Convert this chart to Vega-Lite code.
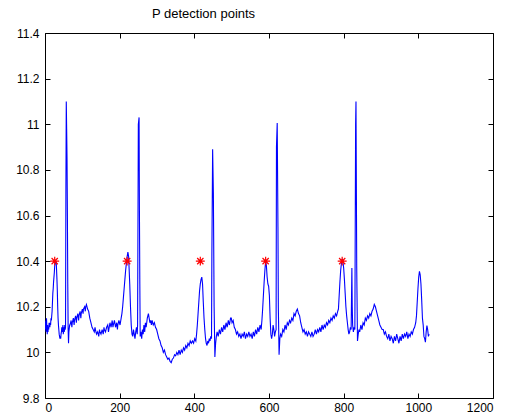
{
"$schema":"https://vega.github.io/schema/vega-lite/v6.json",
"width":448,"height":365,
"autosize":{"type":"none"},
"padding":{"left":45,"top":33,"right":18,"bottom":21},
"background":"white",
"title":{"text":"P detection points","font":"Liberation Sans","fontSize":13,"fontWeight":"normal","color":"black","anchor":"start","frame":"group","dx":107,"offset":6},
"config":{"view":{"stroke":null},"axis":{"labelFont":"Liberation Sans","labelFontSize":12,"labelColor":"black","domainColor":"black","tickColor":"black","grid":false,"title":null,"tickSize":-5}},
"datasets":{
"sig":[
{"x":0,"y":10.13},{"x":1,"y":10.10},{"x":2,"y":10.14},{"x":3,"y":10.09},{"x":4,"y":10.15},{"x":5,"y":10.11},{"x":6,"y":10.08},{"x":7,"y":10.12},{"x":8,"y":10.09},{"x":9,"y":10.11},{"x":10,"y":10.10},{"x":11,"y":10.13},{"x":12,"y":10.12},{"x":13,"y":10.11},{"x":14,"y":10.13},{"x":15,"y":10.12},{"x":16,"y":10.15},{"x":17,"y":10.14},{"x":19,"y":10.18},{"x":20,"y":10.22},{"x":21,"y":10.26},{"x":22,"y":10.28},{"x":23,"y":10.31},{"x":24,"y":10.33},{"x":25,"y":10.35},{"x":26,"y":10.38},{"x":27,"y":10.39},{"x":28,"y":10.40},{"x":29,"y":10.39},{"x":30,"y":10.40},{"x":31,"y":10.36},{"x":32,"y":10.32},{"x":33,"y":10.27},{"x":34,"y":10.20},{"x":35,"y":10.15},{"x":36,"y":10.12},{"x":37,"y":10.10},{"x":38,"y":10.08},{"x":39,"y":10.07},{"x":40,"y":10.06},{"x":41,"y":10.07},{"x":42,"y":10.06},{"x":43,"y":10.08},{"x":44,"y":10.09},{"x":45,"y":10.11},{"x":46,"y":10.09},{"x":47,"y":10.10},{"x":48,"y":10.12},{"x":49,"y":10.08},{"x":50,"y":10.10},{"x":51,"y":10.11},{"x":52,"y":10.09},{"x":53,"y":10.12},{"x":54,"y":10.10},{"x":55,"y":10.11},{"x":56,"y":10.72},{"x":57,"y":11.10},{"x":58,"y":10.98},{"x":59,"y":10.85},{"x":60,"y":10.60},{"x":61,"y":10.30},{"x":62,"y":10.10},{"x":63,"y":10.04},{"x":64,"y":10.09},{"x":66,"y":10.12},
{"x":67,"y":10.12},{"x":70,"y":10.14},{"x":72,"y":10.11},{"x":73,"y":10.13},{"x":76,"y":10.15},{"x":78,"y":10.12},{"x":79,"y":10.14},{"x":82,"y":10.16},{"x":84,"y":10.13},{"x":85,"y":10.15},{"x":88,"y":10.17},{"x":90,"y":10.14},{"x":91,"y":10.16},{"x":94,"y":10.18},{"x":96,"y":10.15},{"x":97,"y":10.17},{"x":100,"y":10.19},{"x":102,"y":10.17},{"x":103,"y":10.19},{"x":106,"y":10.20},{"x":108,"y":10.18},{"x":109,"y":10.20},{"x":111,"y":10.21},{"x":114,"y":10.19},{"x":117,"y":10.18},{"x":120,"y":10.15},{"x":123,"y":10.13},{"x":126,"y":10.11},{"x":129,"y":10.10},{"x":132,"y":10.09},{"x":134,"y":10.11},{"x":135,"y":10.10},{"x":138,"y":10.08},{"x":141,"y":10.09},{"x":144,"y":10.07},{"x":146,"y":10.10},{"x":147,"y":10.09},{"x":150,"y":10.08},{"x":153,"y":10.10},{"x":156,"y":10.08},{"x":158,"y":10.11},{"x":159,"y":10.10},{"x":162,"y":10.09},{"x":165,"y":10.11},{"x":168,"y":10.12},{"x":170,"y":10.09},{"x":171,"y":10.10},{"x":174,"y":10.13},{"x":177,"y":10.11},{"x":180,"y":10.14},{"x":182,"y":10.11},{"x":183,"y":10.12},{"x":186,"y":10.14},{"x":189,"y":10.11},{"x":192,"y":10.13},{"x":194,"y":10.10},{"x":195,"y":10.12},{"x":198,"y":10.14},{"x":201,"y":10.12},{"x":204,"y":10.15},
{"x":206,"y":10.17},{"x":208,"y":10.20},{"x":210,"y":10.24},{"x":212,"y":10.28},{"x":214,"y":10.32},{"x":216,"y":10.36},{"x":218,"y":10.39},{"x":220,"y":10.42},{"x":222,"y":10.44},{"x":224,"y":10.42},{"x":225,"y":10.38},{"x":227,"y":10.30},{"x":229,"y":10.20},{"x":231,"y":10.12},{"x":233,"y":10.08},{"x":235,"y":10.07},{"x":237,"y":10.10},{"x":239,"y":10.08},{"x":241,"y":10.06},{"x":243,"y":10.09},{"x":245,"y":10.11},{"x":247,"y":10.08},{"x":248,"y":10.12},{"x":249,"y":10.55},{"x":250,"y":11.00},{"x":252,"y":11.03},{"x":253,"y":10.60},{"x":254,"y":10.30},{"x":255,"y":10.07},{"x":257,"y":10.09},{"x":259,"y":10.06},{"x":261,"y":10.10},{"x":263,"y":10.08},{"x":265,"y":10.12},{"x":267,"y":10.09},{"x":269,"y":10.13},{"x":271,"y":10.11},{"x":274,"y":10.15},{"x":277,"y":10.17},{"x":279,"y":10.15},{"x":281,"y":10.13},{"x":283,"y":10.14},{"x":285,"y":10.12},{"x":287,"y":10.14},{"x":290,"y":10.12},{"x":293,"y":10.13},{"x":296,"y":10.11},{"x":299,"y":10.10},{"x":302,"y":10.08},{"x":305,"y":10.06},{"x":308,"y":10.05},{"x":311,"y":10.03},{"x":314,"y":10.02},{"x":317,"y":10.00},{"x":320,"y":10.01},{"x":323,"y":9.99},{"x":326,"y":9.98},{"x":329,"y":9.97},{"x":332,"y":9.975},{"x":335,"y":9.96},{"x":338,"y":9.955},{"x":341,"y":9.97},{"x":344,"y":9.975},{"x":347,"y":9.99},{"x":350,"y":9.985},{"x":353,"y":10.00},{"x":356,"y":9.99},{"x":359,"y":10.01},{"x":362,"y":9.99},{"x":365,"y":10.01},{"x":368,"y":10.00},{"x":371,"y":10.02},{"x":374,"y":10.01},{"x":377,"y":10.03},{"x":380,"y":10.02},{"x":383,"y":10.04},{"x":386,"y":10.03},{"x":389,"y":10.05},{"x":392,"y":10.04},{"x":395,"y":10.05},{"x":398,"y":10.04},{"x":401,"y":10.06},{"x":404,"y":10.05},{"x":406,"y":10.08},
{"x":408,"y":10.12},{"x":410,"y":10.17},{"x":412,"y":10.22},{"x":414,"y":10.27},{"x":416,"y":10.30},{"x":418,"y":10.32},{"x":420,"y":10.33},{"x":422,"y":10.30},{"x":424,"y":10.22},{"x":426,"y":10.15},{"x":428,"y":10.10},{"x":430,"y":10.06},{"x":432,"y":10.04},{"x":434,"y":10.03},{"x":436,"y":10.05},{"x":438,"y":10.04},{"x":440,"y":10.06},{"x":442,"y":10.05},{"x":444,"y":10.07},{"x":446,"y":10.06},{"x":447,"y":10.43},{"x":449,"y":10.89},{"x":451,"y":10.70},{"x":453,"y":10.20},{"x":455,"y":9.98},{"x":457,"y":10.04},{"x":459,"y":10.07},{"x":461,"y":10.09},{"x":464,"y":10.07},{"x":467,"y":10.10},{"x":470,"y":10.08},{"x":473,"y":10.11},{"x":476,"y":10.09},{"x":479,"y":10.12},{"x":482,"y":10.10},{"x":485,"y":10.13},{"x":488,"y":10.11},{"x":491,"y":10.14},{"x":494,"y":10.12},{"x":497,"y":10.15},{"x":499,"y":10.15},{"x":501,"y":10.13},{"x":504,"y":10.14},{"x":507,"y":10.11},{"x":510,"y":10.10},{"x":513,"y":10.08},{"x":516,"y":10.09},{"x":519,"y":10.07},{"x":522,"y":10.08},{"x":525,"y":10.06},{"x":528,"y":10.08},{"x":531,"y":10.07},{"x":534,"y":10.09},{"x":537,"y":10.06},{"x":540,"y":10.08},{"x":543,"y":10.07},{"x":546,"y":10.09},{"x":549,"y":10.07},{"x":552,"y":10.08},{"x":555,"y":10.06},{"x":558,"y":10.09},{"x":561,"y":10.07},{"x":564,"y":10.10},{"x":567,"y":10.08},{"x":570,"y":10.11},{"x":573,"y":10.09},{"x":576,"y":10.12},{"x":579,"y":10.10},{"x":581,"y":10.14},
{"x":583,"y":10.19},{"x":585,"y":10.25},{"x":587,"y":10.31},{"x":589,"y":10.36},{"x":591,"y":10.40},{"x":593,"y":10.38},{"x":595,"y":10.33},{"x":597,"y":10.30},{"x":599,"y":10.29},{"x":601,"y":10.25},{"x":603,"y":10.15},{"x":605,"y":10.08},{"x":607,"y":10.06},{"x":609,"y":10.08},{"x":611,"y":10.12},{"x":613,"y":10.10},{"x":615,"y":10.07},{"x":617,"y":10.09},{"x":619,"y":10.10},{"x":620,"y":10.90},{"x":622,"y":11.005},{"x":624,"y":10.55},{"x":625,"y":10.20},{"x":627,"y":9.99},{"x":629,"y":10.06},{"x":631,"y":10.08},{"x":634,"y":10.07},{"x":637,"y":10.10},{"x":640,"y":10.09},{"x":643,"y":10.12},{"x":646,"y":10.10},{"x":649,"y":10.13},{"x":652,"y":10.12},{"x":655,"y":10.14},{"x":658,"y":10.13},{"x":661,"y":10.15},{"x":664,"y":10.14},{"x":667,"y":10.17},{"x":670,"y":10.16},{"x":673,"y":10.18},{"x":676,"y":10.19},{"x":679,"y":10.17},{"x":682,"y":10.16},{"x":685,"y":10.13},{"x":688,"y":10.11},{"x":691,"y":10.09},{"x":694,"y":10.10},{"x":697,"y":10.08},{"x":700,"y":10.09},{"x":703,"y":10.07},{"x":706,"y":10.09},{"x":709,"y":10.08},{"x":712,"y":10.07},{"x":715,"y":10.09},{"x":718,"y":10.07},{"x":721,"y":10.08},{"x":724,"y":10.10},{"x":727,"y":10.08},{"x":730,"y":10.10},{"x":733,"y":10.09},{"x":736,"y":10.11},{"x":739,"y":10.09},{"x":742,"y":10.12},{"x":745,"y":10.10},{"x":748,"y":10.12},{"x":751,"y":10.11},{"x":754,"y":10.13},{"x":757,"y":10.12},{"x":760,"y":10.14},{"x":763,"y":10.13},{"x":766,"y":10.15},{"x":769,"y":10.14},{"x":772,"y":10.16},{"x":775,"y":10.15},{"x":778,"y":10.17},{"x":781,"y":10.16},{"x":784,"y":10.18},
{"x":786,"y":10.19},{"x":788,"y":10.25},{"x":790,"y":10.31},{"x":792,"y":10.36},{"x":794,"y":10.39},{"x":796,"y":10.41},{"x":798,"y":10.40},{"x":800,"y":10.37},{"x":802,"y":10.32},{"x":804,"y":10.26},{"x":806,"y":10.20},{"x":808,"y":10.16},{"x":810,"y":10.13},{"x":812,"y":10.10},{"x":814,"y":10.08},{"x":816,"y":10.09},{"x":818,"y":10.11},{"x":820,"y":10.10},{"x":822,"y":10.37},{"x":823,"y":10.20},{"x":824,"y":10.12},{"x":826,"y":10.09},{"x":828,"y":10.11},{"x":830,"y":10.10},{"x":832,"y":11.00},{"x":833,"y":11.10},{"x":835,"y":10.37},{"x":837,"y":10.05},{"x":839,"y":10.08},{"x":841,"y":10.10},{"x":843,"y":10.09},{"x":846,"y":10.12},{"x":849,"y":10.10},{"x":852,"y":10.13},{"x":855,"y":10.12},{"x":858,"y":10.15},{"x":861,"y":10.14},{"x":864,"y":10.16},{"x":867,"y":10.15},{"x":870,"y":10.17},{"x":873,"y":10.16},{"x":876,"y":10.18},{"x":879,"y":10.19},{"x":882,"y":10.21},{"x":885,"y":10.20},{"x":888,"y":10.18},{"x":891,"y":10.16},{"x":894,"y":10.14},{"x":897,"y":10.12},{"x":900,"y":10.11},{"x":903,"y":10.10},{"x":906,"y":10.10},{"x":909,"y":10.08},{"x":912,"y":10.09},{"x":915,"y":10.07},{"x":918,"y":10.06},{"x":921,"y":10.08},{"x":924,"y":10.05},{"x":927,"y":10.07},{"x":930,"y":10.06},{"x":933,"y":10.04},{"x":936,"y":10.07},{"x":939,"y":10.05},{"x":942,"y":10.08},{"x":945,"y":10.06},{"x":948,"y":10.04},{"x":951,"y":10.07},{"x":954,"y":10.05},{"x":957,"y":10.08},{"x":960,"y":10.06},{"x":963,"y":10.08},{"x":966,"y":10.07},{"x":969,"y":10.09},{"x":972,"y":10.06},{"x":975,"y":10.08},{"x":978,"y":10.07},{"x":981,"y":10.09},{"x":984,"y":10.08},{"x":987,"y":10.10},{"x":990,"y":10.11},{"x":993,"y":10.13},{"x":995,"y":10.16},{"x":997,"y":10.22},{"x":999,"y":10.28},{"x":1001,"y":10.33},{"x":1003,"y":10.355},{"x":1005,"y":10.34},{"x":1007,"y":10.30},{"x":1009,"y":10.23},{"x":1011,"y":10.15},{"x":1013,"y":10.12},{"x":1015,"y":10.07},{"x":1017,"y":10.06},{"x":1019,"y":10.045},{"x":1021,"y":10.09},{"x":1023,"y":10.117},{"x":1025,"y":10.10},{"x":1027,"y":10.07},{"x":1029,"y":10.08}
],
"pts":[{"x":26,"y":10.4},{"x":220,"y":10.4},{"x":416,"y":10.4},{"x":591,"y":10.4},{"x":796,"y":10.4}]
},
"layer":[
{"data":{"name":"sig"},"mark":{"type":"line","color":"#0000ff","strokeWidth":1.1,"clip":true},
"encoding":{"x":{"field":"x","type":"quantitative","scale":{"domain":[0,1200],"nice":false,"zero":false},"axis":{"orient":"bottom","values":[0,200,400,600,800,1000,1200],"format":"d","labelPadding":9}},
"y":{"field":"y","type":"quantitative","scale":{"domain":[9.8,11.4],"nice":false,"zero":false},"axis":{"orient":"left","values":[9.8,10,10.2,10.4,10.6,10.8,11,11.2,11.4],"format":"~g","labelPadding":11}}}},
{"data":{"name":"pts"},"mark":{"type":"point","shape":"M-1,0L1,0M0,-1L0,1M-0.7,-0.7L0.7,0.7M-0.7,0.7L0.7,-0.7","filled":false,"stroke":"#ff0000","strokeWidth":1.2,"size":80,"opacity":1},
"encoding":{"x":{"field":"x","type":"quantitative","axis":{"orient":"top","labels":false,"values":[0,200,400,600,800,1000,1200]}},
"y":{"field":"y","type":"quantitative","axis":{"orient":"right","labels":false,"values":[9.8,10,10.2,10.4,10.6,10.8,11,11.2,11.4]}}}}
],
"resolve":{"axis":{"x":"independent","y":"independent"}}
}
